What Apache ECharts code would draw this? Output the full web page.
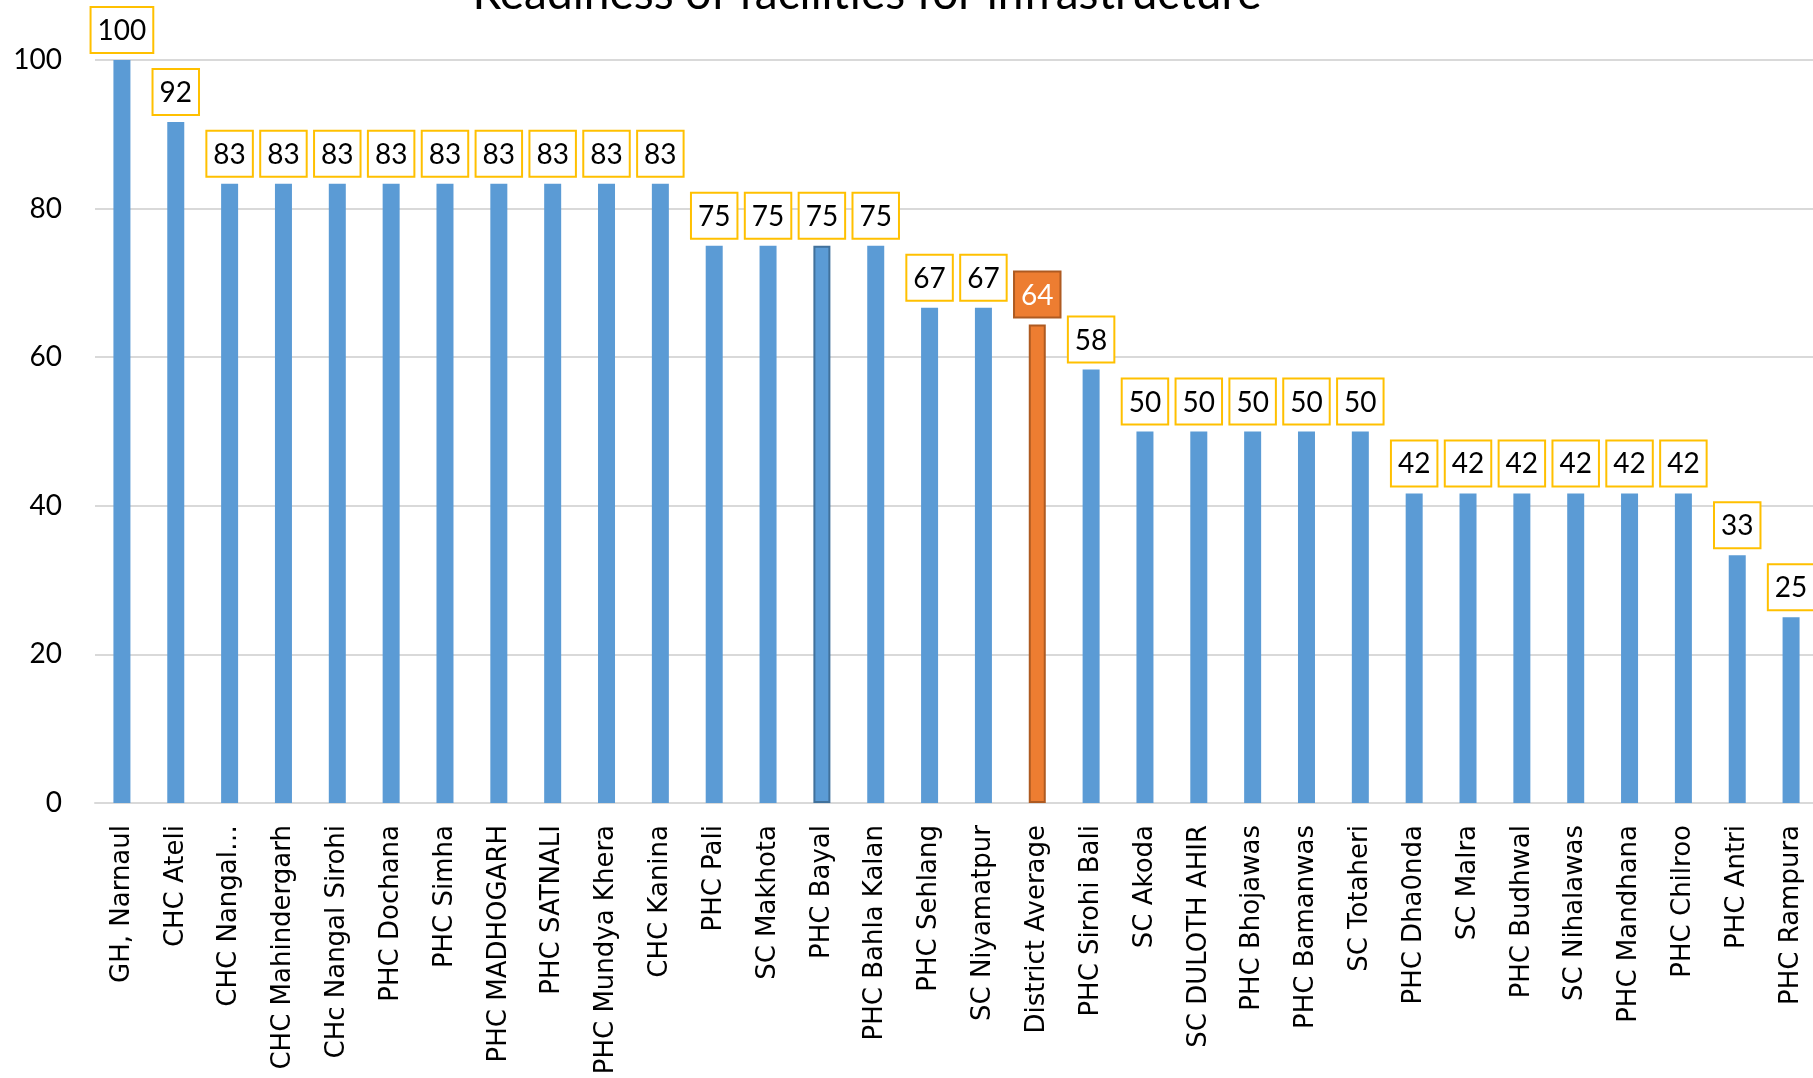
<!DOCTYPE html>
<html>
<head>
<meta charset="utf-8">
<title>Readiness of facilities for infrastructure</title>
<script src="https://cdn.jsdelivr.net/npm/echarts@6/dist/echarts.min.js"></script>
<style>
  html, body { margin: 0; padding: 0; background: #fff; }
  #chart { width: 1813px; height: 1078px; }
</style>
</head>
<body>
<div id="chart"></div>
<script>
// facilities, sorted by score
const categories = [
  "GH, Narnaul", "CHC Ateli", "CHC Nangal…", "CHC Mahindergarh", "CHc Nangal Sirohi",
  "PHC Dochana", "PHC Simha", "PHC MADHOGARH", "PHC SATNALI", "PHC Mundya Khera",
  "CHC Kanina", "PHC Pali", "SC Makhota", "PHC Bayal", "PHC Bahla Kalan",
  "PHC Sehlang", "SC Niyamatpur", "District Average", "PHC Sirohi Bali", "SC Akoda",
  "SC DULOTH AHIR", "PHC Bhojawas", "PHC Bamanwas", "SC Totaheri", "PHC Dha0nda",
  "SC Malra", "PHC Budhwal", "SC Nihalawas", "PHC Mandhana", "PHC Chilroo",
  "PHC Antri", "PHC Rampura"
];
const scores = [
  100, 91.67, 83.33, 83.33, 83.33,
  83.33, 83.33, 83.33, 83.33, 83.33,
  83.33, 75, 75, 75, 75,
  66.67, 66.67, 64.4, 58.33, 50,
  50, 50, 50, 50, 41.67,
  41.67, 41.67, 41.67, 41.67, 41.67,
  33.33, 25
];
const yTicks = [0, 20, 40, 60, 80, 100];

const avgName = "District Average";
const selectedName = "PHC Bayal";

const calibriLike = "Lato, 'Open Sans', sans-serif";

// build bar items, average bar gets orange style
function buildData() {
  let list = [];
  for (let i = 0; i < categories.length; i++) {
    let item = { value: scores[i] };
    if (categories[i] === avgName) {
      item.itemStyle = { color: "#ED7D31", borderColor: "#AE5A21", borderWidth: 2 };
      item.label = {
        color: "#fff",
        backgroundColor: "#ED7D31",
        borderColor: "#AE5A21",
      };
    } else if (categories[i] === selectedName) {
      item.itemStyle = { color: "#5B9BD5", borderColor: "#41719C", borderWidth: 2 };
    }
    list.push(item);
  }
  return list;
}

const chart = echarts.init(document.getElementById("chart"));
chart.setOption({
  animation: false,
  backgroundColor: "#fff",
  title: {
    text: "Readiness of facilities for infrastructure",
    left: 862,
    textAlign: "center",
    top: -34,
    textStyle: {
      fontFamily: calibriLike,
      fontWeight: "normal",
      fontSize: 46,
      color: "#000",
    },
  },
  grid: {
    left: 95,
    top: 60,
    width: 1723,
    height: 743,
    containLabel: false,
    outerBoundsMode: "none",
  },
  xAxis: {
    type: "category",
    data: categories,
    axisLine: { show: true, lineStyle: { color: "#D9D9D9", width: 2 } },
    axisTick: { show: false },
    axisLabel: {
      interval: 0,
      rotate: 90,
      margin: 22,
      fontFamily: "'DejaVu Sans', sans-serif",
      fontSize: 26,
      color: "#000",
    },
  },
  yAxis: {
    type: "value",
    min: yTicks[0],
    max: yTicks[yTicks.length - 1],
    interval: 20,
    axisLine: { show: false },
    axisTick: { show: false },
    axisLabel: {
      margin: 33,
      fontFamily: calibriLike,
      fontSize: 28,
      color: "#000",
    },
    splitLine: { lineStyle: { color: "#D9D9D9", width: 2 } },
  },
  series: [
    {
      type: "bar",
      barWidth: 17,
      itemStyle: { color: "#5B9BD5" },
      label: {
        show: true,
        position: "top",
        distance: 8,
        formatter: function (p) {
          return Math.round(p.value);
        },
        fontFamily: calibriLike,
        fontSize: 28,
        lineHeight: 28,
        color: "#000",
        backgroundColor: "#fff",
        borderColor: "#FFC000",
        borderWidth: 2,
        padding: [9, 6, 7, 6],
      },
      data: buildData(),
    },
  ],
});
</script>
</body>
</html>
